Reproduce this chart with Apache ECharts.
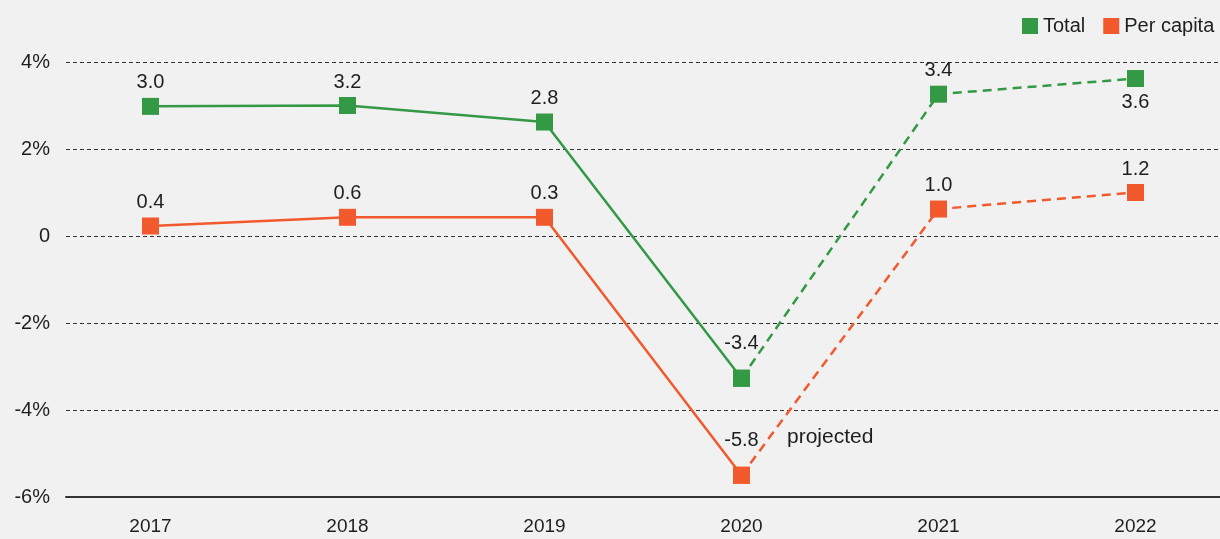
<!DOCTYPE html>
<html>
<head>
<meta charset="utf-8">
<script src="https://cdn.jsdelivr.net/npm/echarts@6/dist/echarts.min.js"></script>
<style>
  html, body { margin: 0; padding: 0; background: #f1f1f1; overflow: hidden; }
  /* a bit wider than the window: the last category and the legend run off the right edge */
  #chart { width: 1234px; height: 539px; }
</style>
</head>
<body>
<div id="chart"></div>
<script>
const years = ['2017', '2018', '2019', '2020', '2021', '2022']
// plotted positions
const totalValues = [2.98, 3.0, 2.62, -3.27, 3.26, 3.62]
const perCapitaValues = [0.23, 0.43, 0.43, -5.5, 0.62, 1.0]
// printed labels
const totalLabels = ['3.0', '3.2', '2.8', '-3.4', '3.4', '3.6']
const perCapitaLabels = ['0.4', '0.6', '0.3', '-5.8', '1.0', '1.2']
const yTicks = [-6, -4, -2, 0, 2, 4]
const lastActual = 3 // 2020, projection starts here

const GREEN = '#339944'
const ORANGE = '#f25a2e'
const TEXT = '#1e1e1e'
const FONT = '"Liberation Sans", Arial, sans-serif'

const chart = echarts.init(document.getElementById('chart'))

// split one series into its solid (actual) and dashed (projected) parts
const buildData = (values, labels, part, belowIdx) => values.map((v, i) => {
  const inPart = part === 'solid' ? i <= lastActual : i >= lastActual
  if (!inPart) return '-'
  const showLabel = part === 'solid' || i > lastActual
  return {
    value: v,
    label: {
      show: showLabel,
      formatter: labels[i],
      position: belowIdx.includes(i) ? 'bottom' : 'top',
      distance: i === lastActual ? 16 : 5
    }
  }
})

const makeSeries = (name, values, labels, color, belowIdx) => ['solid', 'dashed'].map(part => ({
  name,
  type: 'line',
  xAxisIndex: 0,
  yAxisIndex: 0,
  data: buildData(values, labels, part, belowIdx),
  symbol: 'rect',
  symbolSize: 17,
  showAllSymbol: true,
  lineStyle: { color, width: 2.5, type: part === 'solid' ? 'solid' : [9, 6] },
  itemStyle: { color },
  label: { color: TEXT, fontSize: 20, fontFamily: FONT },
  emphasis: { disabled: true },
  z: name === 'Total' ? 3 : 4
}))

const option = {
  backgroundColor: '#f1f1f1',
  animation: false,
  textStyle: { fontFamily: FONT },
  legend: {
    data: ['Total', 'Per capita'],
    left: 1022,
    top: 16,
    padding: 0,
    icon: 'rect',
    itemWidth: 16,
    itemHeight: 16,
    itemGap: 18,
    textStyle: { color: TEXT, fontSize: 20, fontFamily: FONT }
  },
  grid: [
    { left: 52, right: 0, top: 62, bottom: 42 },
    { left: 66, right: 14, top: 62, bottom: 42 }
  ],
  xAxis: [
    {
      type: 'category',
      gridIndex: 0,
      data: years,
      boundaryGap: true,
      axisLine: { show: false },
      axisTick: { show: false },
      axisLabel: { color: TEXT, fontSize: 19, margin: 20, fontFamily: FONT }
    },
    {
      type: 'value',
      gridIndex: 1,
      min: 0,
      max: 1,
      axisLine: { show: true, onZero: false, lineStyle: { color: '#333', width: 2 } },
      axisTick: { show: false },
      axisLabel: { show: false },
      splitLine: { show: false }
    }
  ],
  yAxis: [
    { type: 'value', gridIndex: 0, min: -6, max: 4, show: false },
    {
      type: 'value',
      gridIndex: 1,
      min: yTicks[0],
      max: yTicks[yTicks.length - 1],
      interval: 2,
      axisLine: { show: false },
      axisTick: { show: false },
      axisLabel: {
        color: TEXT,
        fontSize: 20,
        margin: 16,
        fontFamily: FONT,
        formatter: v => (v === 0 ? '0' : v + '%')
      },
      splitLine: { lineStyle: { color: '#333', width: 1, type: [4, 3] } }
    }
  ],
  graphic: [
    {
      type: 'text',
      left: 787,
      top: 427,
      style: { text: 'projected', fill: TEXT, font: '21px ' + FONT }
    }
  ],
  series: [
    ...makeSeries('Total', totalValues, totalLabels, GREEN, [5]),
    ...makeSeries('Per capita', perCapitaValues, perCapitaLabels, ORANGE, [])
  ]
}

chart.setOption(option)
window.addEventListener('resize', () => chart.resize())
</script>
</body>
</html>
